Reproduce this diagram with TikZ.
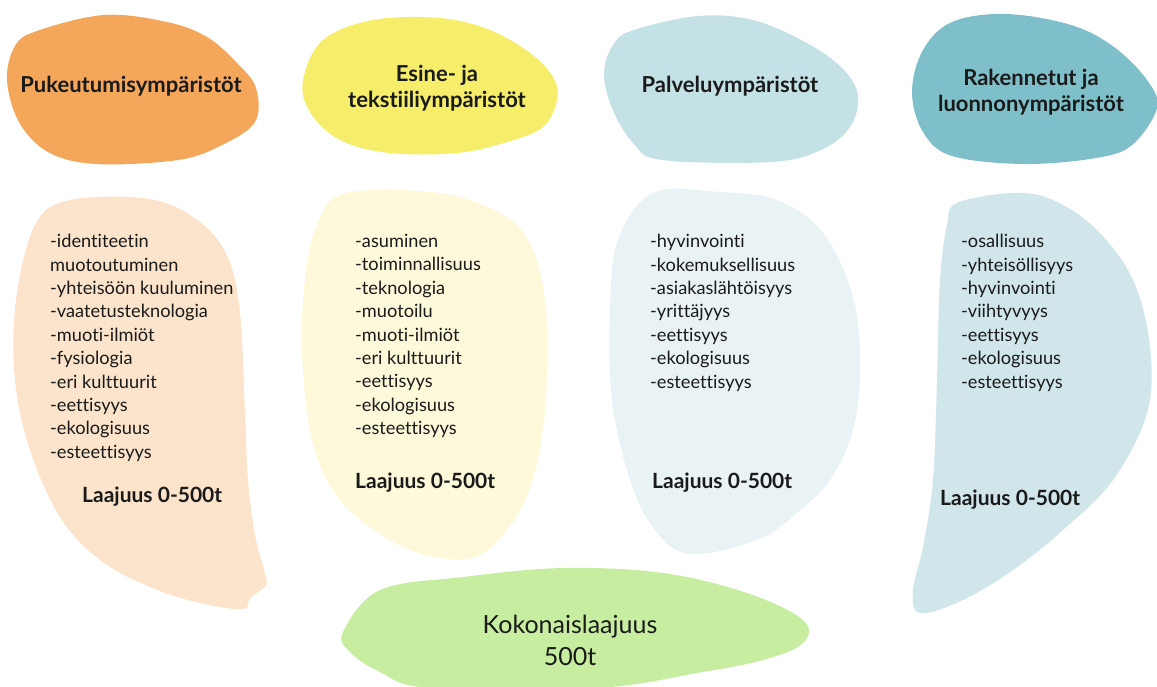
\documentclass[tikz,border=0pt]{standalone}
\usepackage{fontspec}
\setmainfont{Lato}[Ligatures={NoCommon}]
\definecolor{cOrange}{HTML}{F4A75A}
\definecolor{cYellow}{HTML}{F6EE6A}
\definecolor{cBlue}{HTML}{C4E2E5}
\definecolor{cTeal}{HTML}{7FBFCA}
\definecolor{cPeach}{HTML}{FCE3CB}
\definecolor{cLYellow}{HTML}{FEF9DA}
\definecolor{cPale}{HTML}{E9F3F5}
\definecolor{cLTeal}{HTML}{D0E6EA}
\definecolor{cGreen}{HTML}{C7EEA0}
\definecolor{cText}{HTML}{1A1A1A}
\begin{document}
\begin{tikzpicture}[x=1pt,y=-1pt,
  title/.style={font=\bfseries\fontsize{22}{26.5}\selectfont, align=center, inner sep=0, text=cText},
  listbox/.style={font=\fontsize{18.2}{23.4}\selectfont, align=left, anchor=north west, inner sep=0, text=cText},
  laaj/.style={font=\bfseries\fontsize{21}{24}\selectfont, anchor=base west, inner sep=0, text=cText},
  total/.style={font=\fontsize{25}{32}\selectfont, align=center, inner sep=0, text=cText},
  blob/.style={smooth cycle, tension=0.6}]
\useasboundingbox (0,0) rectangle (1157,686);
% top blobs
\fill[cOrange] plot[blob] coordinates {(37,31) (104,15) (167,22) (207,37) (237,63) (256,88) (255,122) (222,145) (178,160) (96,164) (48,152) (19,122) (7,80) (15,46)};
\fill[cYellow] plot[blob] coordinates {(323,40) (373,20) (440,18) (490,30) (530,53) (553,77) (557,100) (543,127) (507,142) (457,153) (390,153) (340,140) (310,112) (303,80)};
\fill[cBlue] plot[blob] coordinates {(637,29) (698,16) (753,20) (807,43) (843,69) (858,96) (850,127) (821,150) (771,162) (662,160) (633,143) (612,108) (604,72) (615,42)};
\fill[cTeal] plot[blob] coordinates {(952,22) (1006,14) (1071,25) (1114,47) (1147,80) (1157,108) (1132,145) (1096,158) (1024,164) (952,156) (923,132) (912,92) (923,50)};
% lower blobs
\fill[cPeach] plot[blob] coordinates {(70,200) (150,199) (200,222) (228,258) (240,313) (245,413) (248,480) (255,535) (264,570) (266,585) (250,598) (243,609) (200,603) (150,587) (100,560) (60,517) (30,450) (15,380) (16,300) (35,225)};
\fill[cLYellow] plot[blob] coordinates {(340,195) (400,190) (470,200) (525,235) (546,310) (544,420) (525,500) (485,552) (440,558) (390,540) (340,500) (312,440) (302,350) (306,270) (318,222)};
\fill[cPale] plot[blob] coordinates {(653,193) (720,192) (777,200) (823,233) (853,297) (860,367) (853,430) (830,480) (797,513) (757,540) (690,554) (655,530) (630,480) (612,400) (610,310) (618,240)};
\fill[cLTeal] plot[blob] coordinates {(957,203) (1013,193) (1053,200) (1097,230) (1133,280) (1150,347) (1147,413) (1113,480) (1063,530) (1013,570) (963,600) (920,613) (913,590) (923,547) (933,480) (937,380) (940,280) (947,225)};
\fill[cGreen] plot[blob] coordinates {(343,632) (380,590) (463,577) (563,568) (663,573) (747,593) (803,620) (803,643) (763,660) (697,673) (597,688) (430,688) (380,672) (350,652)};
% titles
\node[title] (t1) at (131,86) {Pukeutumisympäristöt};
\node[title] (t2) at (437,88) {Esine- ja\\tekstiiliympäristöt};
\node[title] (t3) at (730,86) {Palveluympäristöt};
\node[title] (t4) at (1031,92) {Rakennetut ja\\luonnonympäristöt};
% lists
\node[listbox] (l1) at (50,234) {-identiteetin\\muotoutuminen\\-yhteisöön kuuluminen\\-vaatetusteknologia\\-muoti-ilmiöt\\-fysiologia\\-eri kulttuurit\\-eettisyys\\-ekologisuus\\-esteettisyys};
\node[listbox] (l2) at (355,234) {-asuminen\\-toiminnallisuus\\-teknologia\\-muotoilu\\-muoti-ilmiöt\\-eri kulttuurit\\-eettisyys\\-ekologisuus\\-esteettisyys};
\node[listbox] (l3) at (650,234) {-hyvinvointi\\-kokemuksellisuus\\-asiakaslähtöisyys\\-yrittäjyys\\-eettisyys\\-ekologisuus\\-esteettisyys};
\node[listbox] (l4) at (961,234) {-osallisuus\\-yhteisöllisyys\\-hyvinvointi\\-viihtyvyys\\-eettisyys\\-ekologisuus\\-esteettisyys};
% Laajuus
\node[laaj] (a1) at (82,502) {Laajuus 0-500t};
\node[laaj] (a2) at (355,488) {Laajuus 0-500t};
\node[laaj] (a3) at (652,488) {Laajuus 0-500t};
\node[laaj] (a4) at (940,505) {Laajuus 0-500t};
% total
\node[total] (tot) at (570,640) {Kokonaislaajuus\\500t};
\end{tikzpicture}
\end{document}
